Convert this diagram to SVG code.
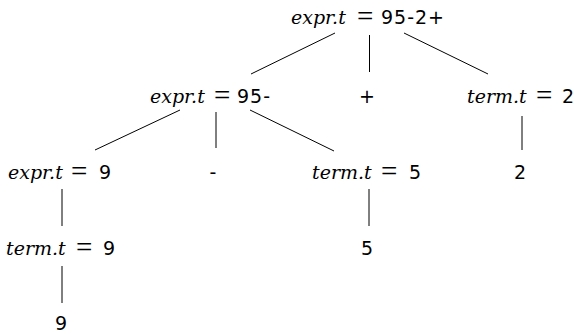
<svg xmlns="http://www.w3.org/2000/svg" width="574" height="334" viewBox="0 0 574 334">
<style>
.v{font-family:"DejaVu Serif","Liberation Serif",serif;font-style:italic;font-size:19px}
.e{font-family:"Liberation Serif",serif;font-size:29px}
.n{font-family:"DejaVu Sans",sans-serif;font-size:19px}
.m{letter-spacing:1px}
.c line{stroke:#000;stroke-width:1}
</style>
<rect width="574" height="334" fill="#fff"/>
<g class="c" id="connectors">
<line x1="335" y1="33" x2="251" y2="74"/>
<line x1="369.5" y1="35" x2="369.5" y2="72"/>
<line x1="404" y1="33" x2="488" y2="74"/>
<line x1="180" y1="110" x2="95" y2="150"/>
<line x1="216" y1="112" x2="216" y2="148"/>
<line x1="250" y1="110" x2="334" y2="151"/>
<line x1="522" y1="116" x2="522" y2="150"/>
<line x1="62" y1="189" x2="62" y2="226"/>
<line x1="62" y1="266" x2="62" y2="303"/>
<line x1="369" y1="189" x2="369" y2="226"/>
</g>
<g id="n-root"><text y="23.5"><tspan class="v" x="291">expr.t</tspan><tspan class="e" x="357" dy="2">=</tspan><tspan class="n m" x="381" dy="-2">95-2+</tspan></text></g>
<g id="n-expr95"><text y="103"><tspan class="v" x="150">expr.t</tspan><tspan class="e" x="214" dy="2">=</tspan><tspan class="n m" x="237" dy="-2">95-</tspan></text></g>
<g id="n-plus"><text class="n" x="367" y="103" text-anchor="middle">+</text></g>
<g id="n-term2"><text y="103"><tspan class="v" x="467">term.t</tspan><tspan class="e" x="536" dy="2">=</tspan><tspan class="n" x="562" dy="-2">2</tspan></text></g>
<g id="n-expr9"><text y="178.5"><tspan class="v" x="8">expr.t</tspan><tspan class="e" x="71" dy="2">=</tspan><tspan class="n" x="99" dy="-2">9</tspan></text></g>
<g id="n-minus"><text class="n" x="213" y="178.5" text-anchor="middle">-</text></g>
<g id="n-term5"><text y="178.5"><tspan class="v" x="312">term.t</tspan><tspan class="e" x="381" dy="2">=</tspan><tspan class="n" x="409" dy="-2">5</tspan></text></g>
<g id="n-2"><text class="n" x="520" y="178.5" text-anchor="middle">2</text></g>
<g id="n-term9"><text y="255"><tspan class="v" x="6">term.t</tspan><tspan class="e" x="76" dy="2">=</tspan><tspan class="n" x="103" dy="-2">9</tspan></text></g>
<g id="n-5"><text class="n" x="367" y="254.5" text-anchor="middle">5</text></g>
<g id="n-9"><text class="n" x="61" y="330" text-anchor="middle">9</text></g>
</svg>
